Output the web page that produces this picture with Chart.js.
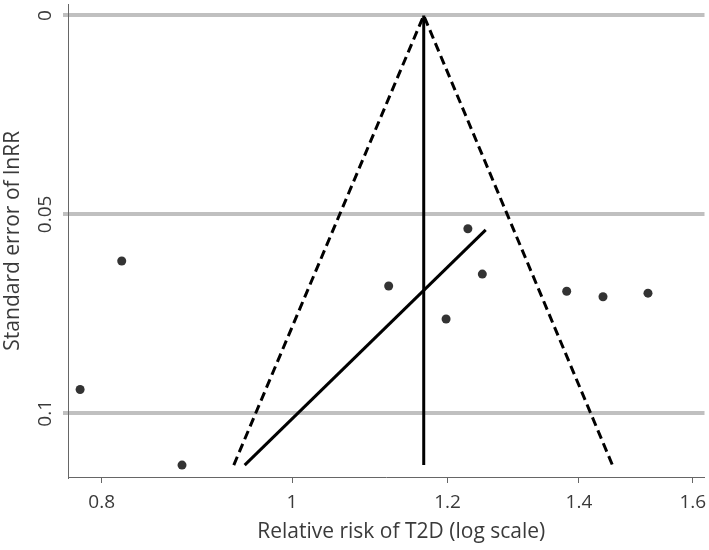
<!DOCTYPE html>
<html>
<head>
<meta charset="utf-8">
<script src="https://cdn.jsdelivr.net/npm/chart.js@4"></script>
<style>
html,body{margin:0;padding:0;background:#fff;}
#wrap{width:709px;height:550px;}
</style>
</head>
<body>
<div id="wrap"><canvas id="c" width="709" height="550"></canvas></div>
<script>
// Study points: relative risk and standard error of lnRR
const studyRR = [0.780, 0.819, 0.879, 1.120, 1.198, 1.229, 1.250, 1.380, 1.440, 1.518];
const studySE = [0.0940, 0.0617, 0.1130, 0.0680, 0.0763, 0.0536, 0.0650, 0.0693, 0.0707, 0.0698];
// Pseudo 95% confidence limits (funnel)
const funnelRR = [0.934, 1.167, 1.456];
const funnelSE = [0.113, 0.0, 0.113];
// Pooled estimate line
const pooledRR = [1.167, 1.167];
const pooledSE = [0.0, 0.113];
// Regression line
const regRR = [0.946, 1.255];
const regSE = [0.113, 0.0539];
// Ticks
const xTicks = [0.8, 1, 1.2, 1.4, 1.6];
const yTicks = [0, 0.05, 0.1];
const xTitle = 'Relative risk of T2D (log scale)';

const pts = (xs, ys) => xs.map((x, i) => ({x: x, y: ys[i]}));
const txt = '#3a3a3a';
const font = "'Open Sans', 'Noto Sans', sans-serif";

// Rotated y tick labels and x title, positioned with the library's scales
const labelsPlugin = {
  id: 'labelsPlugin',
  afterDraw(chart) {
    const ys = chart.scales.y;
    const xs = chart.scales.x;
    const ctx = chart.ctx;
    ctx.save();
    ctx.fillStyle = txt;
    ctx.font = "19px " + font;
    ctx.textAlign = 'center';
    ctx.textBaseline = 'middle';
    yTicks.forEach(v => {
      const py = ys.getPixelForValue(v);
      ctx.save();
      ctx.translate(46, py);
      ctx.rotate(-Math.PI / 2);
      ctx.fillText(String(v), 0, 0);
      ctx.restore();
    });
    ctx.font = "21px " + font;
    ctx.fillText(xTitle, (xs.left + xs.right) / 2 + 15, xs.bottom - 18);
    ctx.restore();
  }
};

new Chart(document.getElementById('c'), {
  type: 'scatter',
  data: {
    datasets: [
      {data: pts(funnelRR, funnelSE), showLine: true, borderColor: '#000', borderWidth: 3,
       borderDash: [9, 5], pointRadius: 0, fill: false, order: 2},
      {data: pts(pooledRR, pooledSE), showLine: true, borderColor: '#000', borderWidth: 3,
       pointRadius: 0, fill: false, order: 2},
      {data: pts(regRR, regSE), showLine: true, borderColor: '#000', borderWidth: 3,
       pointRadius: 0, fill: false, order: 2},
      {data: pts(studyRR, studySE), pointRadius: 4.5, pointBackgroundColor: '#333',
       pointBorderWidth: 0, borderColor: '#333', order: 1}
    ]
  },
  options: {
    responsive: false,
    animation: false,
    devicePixelRatio: 1,
    layout: {padding: {top: 0, right: 0, left: 0, bottom: 0}},
    plugins: {legend: {display: false}, tooltip: {enabled: false}},
    scales: {
      x: {
        type: 'logarithmic',
        min: 0.769, max: 1.622,
        afterBuildTicks: s => { s.ticks = xTicks.map(v => ({value: v})); },
        afterFit: s => { s.height = 73; s.paddingLeft = 0; s.paddingRight = 0; },
        grid: {display: true, drawOnChartArea: false, drawTicks: true, tickLength: 6, color: '#666', lineWidth: 1},
        border: {display: true, color: '#666', width: 1},
        ticks: {color: txt, font: {family: font, size: 19}, padding: 8, autoSkip: false,
                maxRotation: 0, minRotation: 0,
                callback: v => String(v)},
        title: {display: false}
      },
      y: {
        type: 'linear',
        reverse: true,
        min: -0.00276, max: 0.116,
        afterBuildTicks: s => { s.ticks = yTicks.map(v => ({value: v})); },
        afterFit: s => { s.width = 68; s.paddingTop = 0; s.paddingBottom = 0; },
        grid: {display: true, drawOnChartArea: true, drawTicks: true, tickLength: 5, color: '#c0c0c0', lineWidth: 4},
        border: {display: true, color: '#666', width: 1},
        ticks: {display: false},
        title: {display: true, text: 'Standard error of lnRR', color: txt,
                font: {family: font, size: 21}, padding: {top: 0, bottom: 0}}
      }
    }
  },
  plugins: [labelsPlugin]
});
</script>
</body>
</html>
